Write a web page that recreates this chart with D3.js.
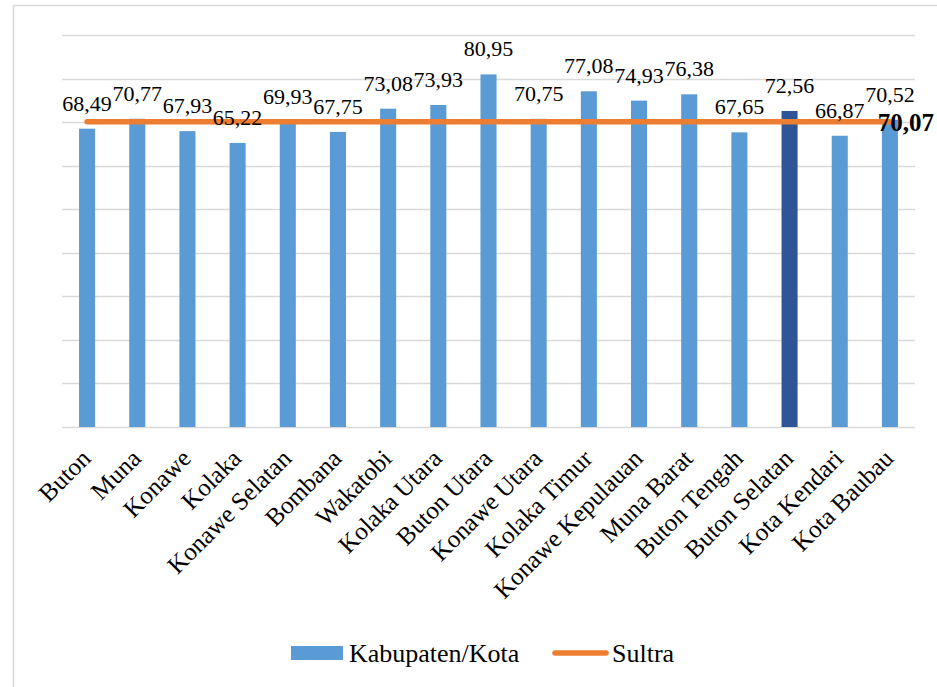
<!DOCTYPE html>
<html>
<head>
<meta charset="utf-8">
<script src="https://cdn.jsdelivr.net/npm/d3@7"></script>
<style>
  html, body { margin: 0; padding: 0; background: #fff; }
  svg { display: block; }
</style>
</head>
<body>
<svg id="chart" width="937" height="687" font-family="'Liberation Serif', 'Times New Roman', serif"></svg>
<script>
const categories = ["Buton","Muna","Konawe","Kolaka","Konawe Selatan","Bombana","Wakatobi","Kolaka Utara","Buton Utara","Konawe Utara","Kolaka Timur","Konawe Kepulauan","Muna Barat","Buton Tengah","Buton Selatan","Kota Kendari","Kota Baubau"];
const values = [68.49,70.77,67.93,65.22,69.93,67.75,73.08,73.93,80.95,70.75,77.08,74.93,76.38,67.65,72.56,66.87,70.52];
const sultraValue = 70.07;
const highlighted = ["Buton Selatan"];
const gridTicks = [0,10,20,30,40,50,60,70,80,90];
const seriesNames = ["Kabupaten/Kota","Sultra"];

const fmt = v => v.toFixed(2).replace(".", ",");
const svg = d3.select("#chart");
const FONT = "'Liberation Serif', 'Times New Roman', serif";

// outer frame
svg.append("rect").attr("x",13.5).attr("y",5.5).attr("width",1200).attr("height",1200)
  .attr("fill","none").attr("stroke","#d9d9d9").attr("stroke-width",1.5);

const x = d3.scaleBand().domain(categories).range([62,915]).paddingInner(0.68).paddingOuter(0.34);
const y = d3.scaleLinear().domain([0,90]).range([427,35]);

// gridlines
svg.append("g").selectAll("line").data(gridTicks).join("line")
  .attr("x1",62).attr("x2",915)
  .attr("y1",d=>Math.round(y(d))+0.5).attr("y2",d=>Math.round(y(d))+0.5)
  .attr("stroke","#d9d9d9").attr("stroke-width",1.3);

// bars
svg.append("g").selectAll("rect").data(categories).join("rect")
  .attr("x",d=>x(d)).attr("width",x.bandwidth())
  .attr("y",(d,i)=>y(values[i])).attr("height",(d,i)=>y(0)-y(values[i]))
  .attr("fill",d=>highlighted.includes(d)?"#2F5597":"#5B9BD5");

// Sultra line
const line = d3.line().x(d=>x(d)+x.bandwidth()/2).y(()=>y(sultraValue));
svg.append("path").datum(categories).attr("d",line)
  .attr("fill","none").attr("stroke","#ED7D31").attr("stroke-width",5.5).attr("stroke-linecap","round");

// data labels
svg.append("g").selectAll("text").data(categories).join("text")
  .attr("font-family",FONT)
  .attr("x",d=>x(d)+x.bandwidth()/2).attr("y",(d,i)=>y(values[i])-18)
  .attr("text-anchor","middle").attr("font-size",22)
  .text((d,i)=>fmt(values[i]));

// Sultra label
const last = categories[categories.length-1];
svg.append("text").attr("font-family",FONT)
  .attr("x",x(last)+x.bandwidth()/2+16).attr("y",y(sultraValue)+9)
  .attr("text-anchor","middle").attr("font-size",25).attr("font-weight","bold")
  .text(fmt(sultraValue));

// x axis labels
svg.append("g").selectAll("text").data(categories).join("text")
  .attr("font-family",FONT)
  .attr("transform",d=>`translate(${x(d)+x.bandwidth()/2+5},${y(0)+33}) rotate(-45)`)
  .attr("text-anchor","end").attr("font-size",25)
  .text(d=>d);

// legend
const lg = svg.append("g");
lg.append("rect").attr("x",291).attr("y",646).attr("width",52).attr("height",14).attr("fill","#5B9BD5");
lg.append("text").attr("font-family",FONT).attr("x",349).attr("y",662).attr("font-size",26).text(seriesNames[0]);
lg.append("line").attr("x1",555).attr("x2",606).attr("y1",653).attr("y2",653)
  .attr("stroke","#ED7D31").attr("stroke-width",5.5).attr("stroke-linecap","round");
lg.append("text").attr("font-family",FONT).attr("x",612).attr("y",662).attr("font-size",26).text(seriesNames[1]);
</script>
</body>
</html>
